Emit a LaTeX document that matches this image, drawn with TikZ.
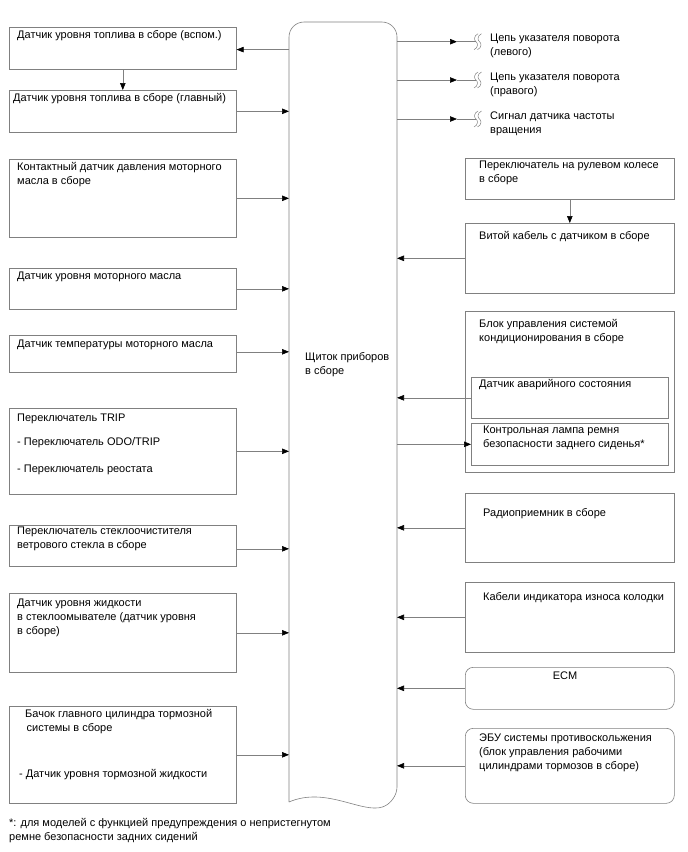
\documentclass[tikz,border=0pt]{standalone}
\usepackage{fontspec}
\setmainfont{Liberation Sans}
\usetikzlibrary{arrows.meta,calc}
\definecolor{lc}{RGB}{128,128,128}
\newcommand{\vt}[1]{\vtop{\halign{##\hfil\cr #1\crcr}}}
\tikzset{
  x=1pt,y=-1pt,
  bx/.style={draw=lc, line width=0.6pt, inner sep=0pt, anchor=north west},
  rbx/.style={bx, rounded corners=8pt},
  arr/.style={draw=lc, line width=0.6pt, -{Triangle[length=7pt,width=5.5pt,color=black]}},
  ln/.style={draw=lc, line width=0.6pt},
  tx/.style={anchor=base west, inner sep=0pt, font=\fontsize{11}{14}\selectfont},
}
\begin{document}
\begin{tikzpicture}
\useasboundingbox (0,0) rectangle (688,852);
% central shape
\draw[ln, rounded corners=15pt] (289,802) -- (289,22) -- (397,22) -- (397,802) [sharp corners] .. controls (362,814) and (326,786) .. (289,802);
\coordinate (cenW) at (289,400);
\coordinate (cenE) at (397,400);
\node[tx] (cent) at (305,360.5) {\vt{Щиток приборов\cr в сборе}};
% left boxes
\node[bx, minimum width=227pt, minimum height=42pt] (L1) at (9,27) {};
\node[bx, minimum width=227pt, minimum height=42pt] (L2) at (9,90) {};
\node[bx, minimum width=227pt, minimum height=78pt] (L3) at (9,159) {};
\node[bx, minimum width=227pt, minimum height=41pt] (L4) at (9,268) {};
\node[bx, minimum width=227pt, minimum height=37pt] (L5) at (9,335) {};
\node[bx, minimum width=227pt, minimum height=86pt] (L6) at (9,408) {};
\node[bx, minimum width=227pt, minimum height=41pt] (L7) at (9,525) {};
\node[bx, minimum width=227pt, minimum height=79pt] (L8) at (9,593) {};
\node[bx, minimum width=227pt, minimum height=97pt] (L9) at (9,706) {};
\node[tx] (t1) at (17,38.2) {Датчик уровня топлива в сборе (вспом.)};
\node[tx] (t2) at (13,101.8) {Датчик уровня топлива в сборе (главный)};
\node[tx] (t3) at (17,170.8) {\vt{Контактный датчик давления моторного\cr масла в сборе}};
\node[tx] (t4) at (17,279) {Датчик уровня моторного масла};
\node[tx] (t5) at (17,347.5) {Датчик температуры моторного масла};
\node[tx] (t6a) at (17,421) {Переключатель TRIP};
\node[tx] (t6b) at (17,445) {- Переключатель ODO/TRIP};
\node[tx] (t6c) at (17,472) {- Переключатель реостата};
\node[tx] (t7) at (17,534) {\vt{Переключатель стеклоочистителя\cr ветрового стекла в сборе}};
\node[tx] (t8) at (17,606) {\vt{Датчик уровня жидкости\cr в стеклоомывателе (датчик уровня\cr в сборе)}};
\node[tx] (t9a) at (25,717.5) {\vt{Бачок главного цилиндра тормозной\cr \kern1.5pt системы в сборе}};
\node[tx] (t9b) at (19,777.5) {- Датчик уровня тормозной жидкости};
\node[tx] (fn) at (9,826) {\vt{*: для моделей с функцией предупреждения о непристегнутом\cr ремне безопасности задних сидений}};
% left arrows
\draw[arr] ([yshift=-1.3]L1.east -| cenW) -- ([yshift=-1.3]L1.east);
\draw[arr] (L1.south) -- (L2.north);
\draw[arr] (L2.east) -- (L2.east -| cenW);
\draw[arr] (L3.east) -- (L3.east -| cenW);
\draw[arr] (L4.east) -- (L4.east -| cenW);
\draw[arr] ([yshift=2]L5.east) -- ([yshift=2]L5.east -| cenW);
\draw[arr] (L6.east) -- (L6.east -| cenW);
\draw[arr] ([yshift=-3]L7.east) -- ([yshift=-3]L7.east -| cenW);
\draw[arr] (L8.east) -- (L8.east -| cenW);
\draw[arr] (L9.east) -- (L9.east -| cenW);
% right top outputs
\foreach \i/\yy in {1/41.7,2/80,3/119}{
  \coordinate (a\i) at (457,\yy);
  \coordinate (s\i) at (476,\yy);
  \draw[arr] (cenE |- a\i) -- (a\i);
  \draw[ln] (a\i) -- (s\i);
  \draw[ln, line width=0.5pt] ($(s\i)+(2,-8)$) .. controls ($(s\i)+(-2.5,-6)$) and ($(s\i)+(-2,-1)$) .. (s\i) .. controls ($(s\i)+(2,1)$) and ($(s\i)+(2.5,6)$) .. ($(s\i)+(-2,8)$);
  \draw[ln, line width=0.5pt] ($(s\i)+(5.5,-8)$) .. controls ($(s\i)+(1,-6)$) and ($(s\i)+(1.5,-1)$) .. ($(s\i)+(3.5,0)$) .. controls ($(s\i)+(5.5,1)$) and ($(s\i)+(6,6)$) .. ($(s\i)+(1.5,8)$);
}
\node[tx] (o1) at (490,41) {\vt{Цепь указателя поворота\cr (левого)}};
\node[tx] (o2) at (490,80) {\vt{Цепь указателя поворота\cr (правого)}};
\node[tx] (o3) at (490,119) {\vt{Сигнал датчика частоты\cr вращения}};
% right boxes
\node[bx, minimum width=209pt, minimum height=41pt] (R1) at (465,158) {};
\node[bx, minimum width=209pt, minimum height=70pt] (R2) at (465,223) {};
\node[bx, minimum width=209pt, minimum height=161pt] (R3) at (465,311) {};
\node[bx, minimum width=197pt, minimum height=41pt] (R3a) at (471,377) {};
\node[bx, minimum width=197pt, minimum height=42pt] (R3b) at (471,423) {};
\node[bx, minimum width=209pt, minimum height=69pt] (R4) at (465,493) {};
\node[bx, minimum width=209pt, minimum height=70pt] (R5) at (465,582) {};
\node[rbx, minimum width=209pt, minimum height=42pt] (R6) at (465,667) {};
\node[rbx, minimum width=209pt, minimum height=75pt] (R7) at (465,728) {};
\node[tx] (r1) at (479,168) {\vt{Переключатель на рулевом колесе\cr в сборе}};
\node[tx] (r2) at (479,239) {Витой кабель с датчиком в сборе};
\node[tx] (r3) at (479,327) {\vt{Блок управления системой\cr кондиционирования в сборе}};
\node[tx] (r3a) at (479,387.5) {Датчик аварийного состояния};
\node[tx] (r3b) at (483,433.5) {\vt{Контрольная лампа ремня\cr безопасности заднего сиденья*}};
\node[tx] (r4) at (483,516.5) {Радиоприемник в сборе};
\node[tx] (r5) at (483,600.5) {Кабели индикатора износа колодки};
\node[tx, anchor=base] (r6) at (565,679.5) {ECM};
\node[tx] (r7) at (479,741.5) {\vt{ЭБУ системы противоскольжения\cr (блок управления рабочими\cr цилиндрами тормозов в сборе)}};
% right arrows
\draw[arr] (R1.south) -- (R2.north);
\draw[arr] (R2.west) -- (R2.west -| cenE);
\draw[arr] (R3a.west) -- (R3a.west -| cenE);
\draw[arr] (R3b.west -| cenE) -- (R3b.west);
\draw[arr] (R4.west) -- (R4.west -| cenE);
\draw[arr] (R5.west) -- (R5.west -| cenE);
\draw[arr] (R6.west) -- (R6.west -| cenE);
\draw[arr] (R7.west) -- (R7.west -| cenE);
\end{tikzpicture}
\end{document}
